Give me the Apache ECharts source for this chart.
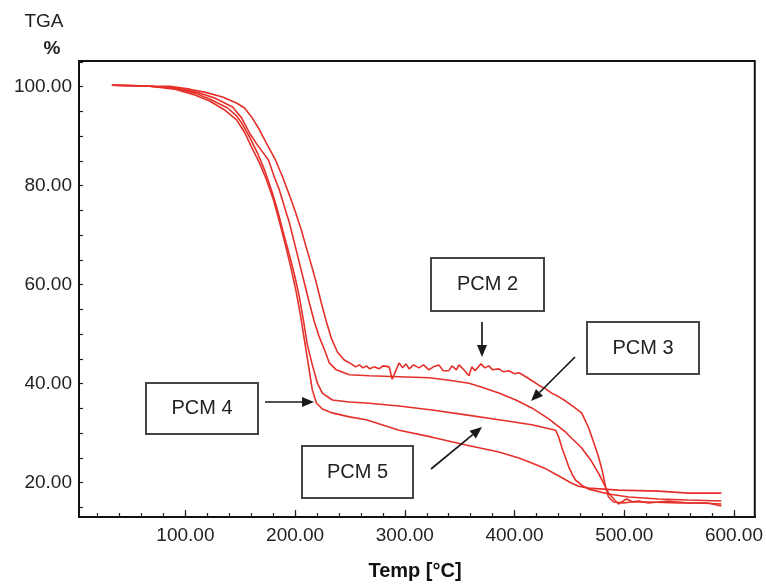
<!DOCTYPE html>
<html>
<head>
<meta charset="utf-8">
<script src="https://cdn.jsdelivr.net/npm/echarts@6/dist/echarts.min.js"></script>
<style>
html,body{margin:0;padding:0;background:#fff;}
#chart{width:766px;height:584px;}
</style>
</head>
<body>
<div id="chart"></div>
<script>
// ---- data (temperature °C, mass %) ----
var xTickValues = [20,40,60,80,100,120,140,160,180,200,220,240,260,280,300,320,340,360,380,400,420,440,460,480,500,520,540,560,580,600];
var xLabelValues = [100,200,300,400,500,600];
var yTickValues = [15,20,25,30,35,40,45,50,55,60,65,70,75,80,85,90,95,100,105];
var yLabelValues = [20,40,60,80,100];

var pcm2 = [[33,100.3],[49.4,100.3],[67.5,100.1],[85.7,100.1],[103.9,99.5],[117.5,98.9],[133.9,97.9],[146.6,96.7],[153.9,95.7],[160.3,93.9],[167.5,91.3],[174.8,88.2],[182.1,85.2],[188.5,81.8],[194.8,78.1],[200.3,74.7],[205.7,71.0],[210.3,67.4],[214.8,64.0],[219.4,60.3],[223.9,56.3],[228.5,52.5],[233.0,49.2],[238.5,46.4],[244.8,44.8],[251.2,44.0],[255,43.4],[258.5,43.8],[262,43.2],[265,43.6],[268,43.0],[272,43.4],[276.6,43.0],[280,43.6],[285.7,43.4],[288.5,40.9],[292.1,42.8],[294.8,44.2],[298,43.2],[301,44.0],[304,43.0],[308,43.8],[313,43.2],[317,43.8],[322,42.8],[326,43.4],[331,43.8],[335,42.6],[340,42.6],[343,43.6],[347,42.8],[349.4,43.8],[353,43.0],[358.5,41.6],[361,43.4],[364,42.6],[369.4,44.0],[373,43.2],[376.6,43.6],[380,42.8],[385.7,43.0],[390,42.4],[394.8,42.6],[400,42.0],[404,42.2],[410.3,41.4],[416,40.6],[422.1,39.7],[428,39.0],[433.9,38.1],[440,37.4],[446.6,36.5],[453.9,35.3],[461.2,34.1],[467.5,31.1],[473,27.6],[476.6,25.2],[480.3,22.1],[483,19.1],[485.7,17.1],[490.3,16.1],[499.4,15.9],[513,16.3],[522.1,15.9],[540.3,16.3],[558.5,15.9],[576.6,15.9],[588.5,15.3]];

var pcm3 = [[33,100.3],[67.5,100.1],[94.8,99.7],[113,98.7],[126.6,97.7],[143,95.9],[151.2,93.7],[158.5,90.6],[165.7,88.2],[175.7,85.2],[180.3,82.2],[185.7,79.1],[190.3,75.7],[194.8,72.5],[199.4,68.4],[203.9,64.4],[208.5,60.3],[213,56.3],[217.5,52.5],[222.1,49.4],[227.5,46.4],[231.2,44.2],[237.5,42.8],[249.4,41.8],[267.5,41.6],[294.8,41.4],[322.1,41.2],[340.3,40.7],[358.5,40.1],[370.3,39.3],[385.7,38.1],[401.2,36.7],[415.7,35.1],[431.2,32.9],[446.6,30.2],[461.2,27.0],[469.4,24.6],[476.6,21.9],[482.1,19.5],[485.7,17.9],[491.2,16.5],[494.8,15.7],[502.1,16.7],[508,16.1],[522.1,16.1],[549.4,15.9],[567.5,15.9],[588.5,15.7]];

var pcm4 = [[33,100.3],[67.5,100.1],[90.3,99.7],[108.5,98.7],[122.1,97.5],[138.5,95.7],[146.6,94.1],[151.2,92.7],[158.5,89.8],[165.7,86.6],[172.1,83.2],[178.5,79.1],[183.9,75.1],[189.4,70.4],[194.8,66.0],[199.4,62.0],[203.9,57.5],[207.5,52.9],[211.2,47.8],[215.7,43.8],[220.3,40.1],[224.8,38.1],[233.9,36.7],[249.4,36.3],[264.8,36.1],[294.8,35.5],[324.8,34.7],[355.7,33.7],[385.7,32.7],[415.7,31.7],[437.5,30.6],[440.3,29.2],[443,27.2],[446.6,25.0],[449.4,23.2],[453,21.5],[455.7,20.5],[461.2,19.5],[467.5,18.7],[485.7,17.7],[504,17.1],[531.2,16.7],[558.5,16.5],[588.5,16.3]];

var pcm5 = [[33,100.3],[67.5,100.1],[90.3,99.5],[108.5,98.3],[122.1,97.1],[135.7,95.3],[146.6,93.3],[153.9,90.8],[160.3,87.8],[167.5,84.6],[173.9,81.2],[180.3,77.1],[185.7,72.7],[191.2,68.0],[196.6,63.0],[201.2,58.3],[204.8,53.9],[208.5,48.8],[212.1,43.8],[215.7,38.7],[219.4,36.1],[224.8,34.9],[233.9,34.1],[249.4,33.3],[264.8,32.7],[294.8,30.6],[324.8,29.2],[355.7,27.6],[385.7,26.2],[404,25.0],[415.7,24.0],[428.5,22.8],[437.5,21.7],[445.7,20.7],[452.1,19.9],[458.5,19.3],[467.5,18.9],[494.8,18.5],[531.2,18.3],[558.5,17.9],[588.5,17.9]];

var seriesNames = ['PCM 2','PCM 3','PCM 4','PCM 5'];
var seriesData = [pcm2, pcm3, pcm4, pcm5];

// ---- chart ----
var RED = '#e5302a';
var FONT = 'Liberation Sans, Arial, sans-serif';
var chart = echarts.init(document.getElementById('chart'), null, {renderer:'canvas'});

function arrow(x1, y1, x2, y2) {
  var ang = Math.atan2(y2 - y1, x2 - x1);
  var L = 12, W = 5;
  var bx = x2 - L * Math.cos(ang), by = y2 - L * Math.sin(ang);
  var px = -Math.sin(ang) * W, py = Math.cos(ang) * W;
  return [
    {type:'line', shape:{x1:x1, y1:y1, x2:bx, y2:by}, style:{stroke:'#1a1a1a', lineWidth:1.7}, z:10},
    {type:'polygon', shape:{points:[[x2,y2],[bx+px,by+py],[bx-px,by-py]]}, style:{fill:'#1a1a1a'}, z:10}
  ];
}
function box(x, y, w, h, label) {
  return [
    {type:'rect', shape:{x:x, y:y, width:w, height:h}, style:{fill:'#fff', stroke:'#444', lineWidth:2}, z:10},
    {type:'text', x:x + w/2, y:y + h/2, style:{text:label, font:'20px ' + FONT, fill:'#222', align:'center', verticalAlign:'middle'}, z:11}
  ];
}

var graphics = [].concat(
  box(431, 258, 113, 53, seriesNames[0]),
  arrow(482, 322, 482, 357),
  box(587, 322, 112, 52, seriesNames[1]),
  arrow(575, 357, 531, 401),
  box(146, 383, 112, 51, seriesNames[2]),
  arrow(265, 402, 314, 402),
  box(302, 446, 111, 52, seriesNames[3]),
  arrow(431, 469, 482, 427),
  [
    {type:'text', x:44, y:22, style:{text:'TGA', font:'19px ' + FONT, fill:'#222', align:'center', verticalAlign:'middle'}},
    {type:'text', x:52, y:49, style:{text:'%', font:'bold 19px ' + FONT, fill:'#222', align:'center', verticalAlign:'middle'}},
    {type:'text', x:415, y:571, style:{text:'Temp [°C]', font:'bold 20px ' + FONT, fill:'#111', align:'center', verticalAlign:'middle'}}
  ]
);

var option = {
  animation: false,
  backgroundColor: '#fff',
  grid: {left:79, right:9, top:61, bottom:67, show:true, borderColor:'#111', borderWidth:2, containLabel:false},
  xAxis: [{
    type:'value', min:3, max:619,
    axisLine:{show:true, lineStyle:{color:'#111', width:2}},
    axisTick:{show:true, inside:true, length:4, customValues:xTickValues, lineStyle:{color:'#222', width:1.2}},
    axisLabel:{show:true, customValues:xLabelValues, margin:9, color:'#222', fontSize:19, fontFamily:FONT,
      formatter:function(v){return v.toFixed(2);}},
    splitLine:{show:false}
  },{
    type:'value', min:3, max:619, position:'bottom',
    axisLine:{show:false},
    axisTick:{show:true, inside:true, length:7, customValues:xLabelValues, lineStyle:{color:'#222', width:1.2}},
    axisLabel:{show:false}, splitLine:{show:false}
  }],
  yAxis: {
    type:'value', min:13.07, max:105.19,
    axisLine:{show:true, lineStyle:{color:'#111', width:2}},
    axisTick:{show:true, inside:true, length:4, customValues:yTickValues, lineStyle:{color:'#222', width:1.2}},
    axisLabel:{show:true, customValues:yLabelValues, margin:7, color:'#222', fontSize:19, fontFamily:FONT,
      formatter:function(v){return v.toFixed(2);}},
    splitLine:{show:false}
  },
  series: seriesData.map(function(d, i){
    return {
      name: seriesNames[i], type:'line', data:d, xAxisIndex:0,
      showSymbol:false, symbol:'none', smooth:false,
      lineStyle:{color:RED, width:1.6}, z:5
    };
  }),
  graphic: graphics
};
chart.setOption(option);
</script>
</body>
</html>
